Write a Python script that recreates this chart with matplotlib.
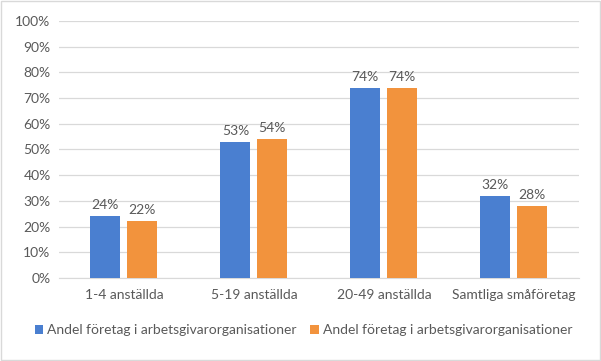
import matplotlib.pyplot as plt
import numpy as np
from matplotlib.patches import Rectangle

categories = ['1-4 anställda', '5-19 anställda', '20-49 anställda', 'Samtliga småföretag']
series_a = [24, 53, 74, 32]
series_b = [22, 54, 74, 28]
labels = ['Andel företag i arbetsgivarorganisationer', 'Andel företag i arbetsgivarorganisationer']
yticks = list(range(0, 101, 10))

plt.rcParams['font.family'] = ['Lato', 'DejaVu Sans']
txt = '#595959'
fs = 10

fig = plt.figure(figsize=(6.01, 3.61), dpi=100)
ax = fig.add_axes([0.098, 0.23, 0.865, 0.712])

x = np.arange(len(categories))
w = 0.23
off = 0.142
b1 = ax.bar(x - off, series_a, w, color='#4A7FD0', label=labels[0], zorder=3)
b2 = ax.bar(x + off, series_b, w, color='#F2933D', label=labels[1], zorder=3)

for bars, vals in [(b1, series_a), (b2, series_b)]:
    for r, v in zip(bars, vals):
        ax.text(r.get_x() + r.get_width() / 2, v + 2, f'{v}%', ha='center', va='bottom',
                fontsize=fs, color=txt)

ax.set_xlim(-0.5, len(categories) - 0.5)
ax.set_ylim(0, 100)
ax.set_yticks(yticks)
ax.set_yticklabels([f'{t}%' for t in yticks])
ax.set_xticks(x)
ax.set_xticklabels(categories)
ax.tick_params(axis='both', length=0, labelsize=fs, labelcolor=txt)
ax.tick_params(axis='x', pad=8)
ax.tick_params(axis='y', pad=6)
ax.grid(axis='y', color='#D9D9D9', linewidth=0.9, zorder=0)
for s in ['top', 'right', 'left']:
    ax.spines[s].set_visible(False)
ax.spines['bottom'].set_color('#D9D9D9')

fig.legend(handles=[b1, b2], labels=labels, loc='center', bbox_to_anchor=(0.505, 0.085), ncol=2,
           frameon=False, fontsize=fs, labelcolor=txt, handlelength=0.6, handleheight=0.6,
           handletextpad=0.3, columnspacing=1.0)

fig.patches.append(Rectangle((0.002, 0.003), 0.996, 0.994, transform=fig.transFigure,
                             fill=False, edgecolor='#D9D9D9', linewidth=1))

fig.savefig('out.png', dpi=100)
